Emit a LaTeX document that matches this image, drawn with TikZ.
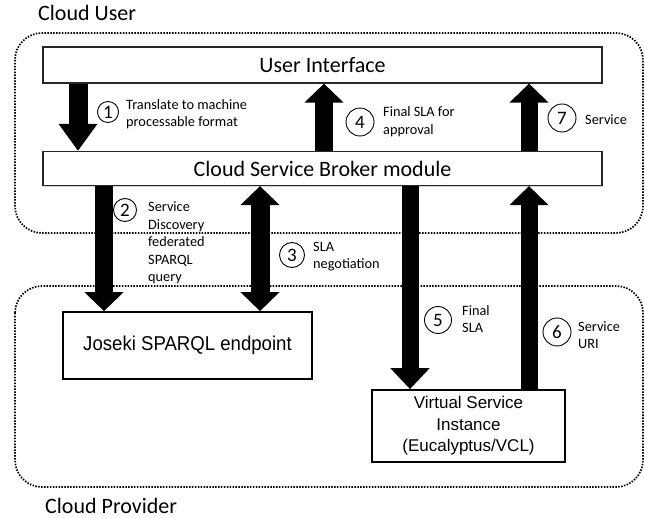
\documentclass[tikz,border=0pt]{standalone}
\usepackage{fontspec}
\setmainfont{Carlito}
\newfontfamily\arialfont{Liberation Sans}
\newfontfamily\narrowfont[FakeStretch=0.93]{Liberation Sans}
\usetikzlibrary{positioning,arrows.meta,shadows}

\begin{document}
\begin{tikzpicture}[x=1pt,y=-1pt,
  cloud/.style={draw,line width=1.7pt,dash pattern=on 1.5pt off 1.4pt,rounded corners=27pt},
  module/.style={draw=black!85,fill=white,line width=1.2pt,minimum width=559pt,inner sep=0pt,
    drop shadow={shadow xshift=0.8pt,shadow yshift=-1.2pt,opacity=0.35},font=\fontsize{22}{26}\selectfont},
  store/.style={draw,fill=white,line width=1.7pt,inner sep=0pt,align=center},
  bigarrow/.style={line width=17pt,-{Triangle[width=38pt,length=19pt]}},
  twoarrow/.style={line width=19pt,{Triangle[width=38pt,length=19pt]}-{Triangle[width=38pt,length=19pt]}},
  num/.style={draw,circle,line width=0.9pt,inner sep=0pt,font=\fontsize{19}{19}\selectfont},
  note/.style={anchor=west,align=left,inner sep=0pt,font=\fontsize{14.3}{17.5}\selectfont},
  realm/.style={anchor=base west,inner sep=0pt,font=\fontsize{22}{26}\selectfont}]
\useasboundingbox (0,0) rectangle (645,518);
% Domains
\draw[cloud] (15,33) rectangle (643,233);
\draw[cloud] (15,286) rectangle (643,487);
\node[realm] (user) at (38,21) {Cloud User};
\node[realm] (provider) at (45,513) {Cloud Provider};
% Boxes
\node[module,minimum height=36pt] (ui) at (322.5,65) {User Interface};
\node[module,minimum height=34pt] (cbm) at (322.5,168.5) {Cloud Service Broker module};
\node[store,minimum width=249pt,minimum height=67pt,font=\narrowfont\fontsize{20}{24}\selectfont] (joseki) at (187.5,345.5) {Joseki SPARQL endpoint};
\node[store,minimum width=193pt,minimum height=72pt,font=\arialfont\fontsize{17}{21.5}\selectfont] (vsi) at (468.5,426) {Virtual Service\\Instance\\(Eucalyptus/VCL)};
% Arrow columns
\coordinate (c1) at (78,0);
\coordinate (c2) at (104,0);
\coordinate (c3) at (260,0);
\coordinate (c4) at (324,0);
\coordinate (c5) at (410,0);
\coordinate (c6) at (529,0);
% Steps
\draw[bigarrow,line width=19pt,-{Triangle[width=37pt,length=27pt]}] (ui.south -| c1) -- (cbm.north -| c1);
\draw[bigarrow,line width=18pt] (cbm.south -| c2) -- (joseki.north -| c2);
\draw[twoarrow] (cbm.south -| c3) -- (joseki.north -| c3);
\draw[bigarrow,line width=18pt] (cbm.north -| c4) -- (ui.south -| c4);
\draw[bigarrow,-{Triangle[width=38pt,length=21pt]}] (cbm.south -| c5) -- (vsi.north -| c5);
\draw[bigarrow] (vsi.north -| c6) -- (cbm.south -| c6);
\draw[bigarrow] (cbm.north -| c6) -- (ui.south -| c6);
% Labels
\node[num,minimum size=21pt] (n1) at (108,112) {1};
\node[note] (t1) at (126,114) {Translate to machine\\processable format};
\node[num,minimum size=23pt] (n2) at (125,210) {2};
\node[note] (t2) at (148,243) {Service\\Discovery\\federated\\SPARQL\\query};
\node[num,minimum size=25pt] (n3) at (292,255) {3};
\node[note] (t3) at (313,256.5) {SLA\\negotiation};
\node[num,minimum size=28pt] (n4) at (360,122) {4};
\node[note] (t4) at (383,121.5) {Final SLA for\\approval};
\node[num,minimum size=27pt] (n5) at (438,320) {5};
\node[note] (t5) at (462,319) {Final\\SLA};
\node[num,minimum size=28pt] (n6) at (557,332) {6};
\node[note] (t6) at (578,335) {Service\\URI};
\node[num,minimum size=28pt] (n7) at (562,118) {7};
\node[note] (t7) at (585,120) {Service};
\end{tikzpicture}
\end{document}
